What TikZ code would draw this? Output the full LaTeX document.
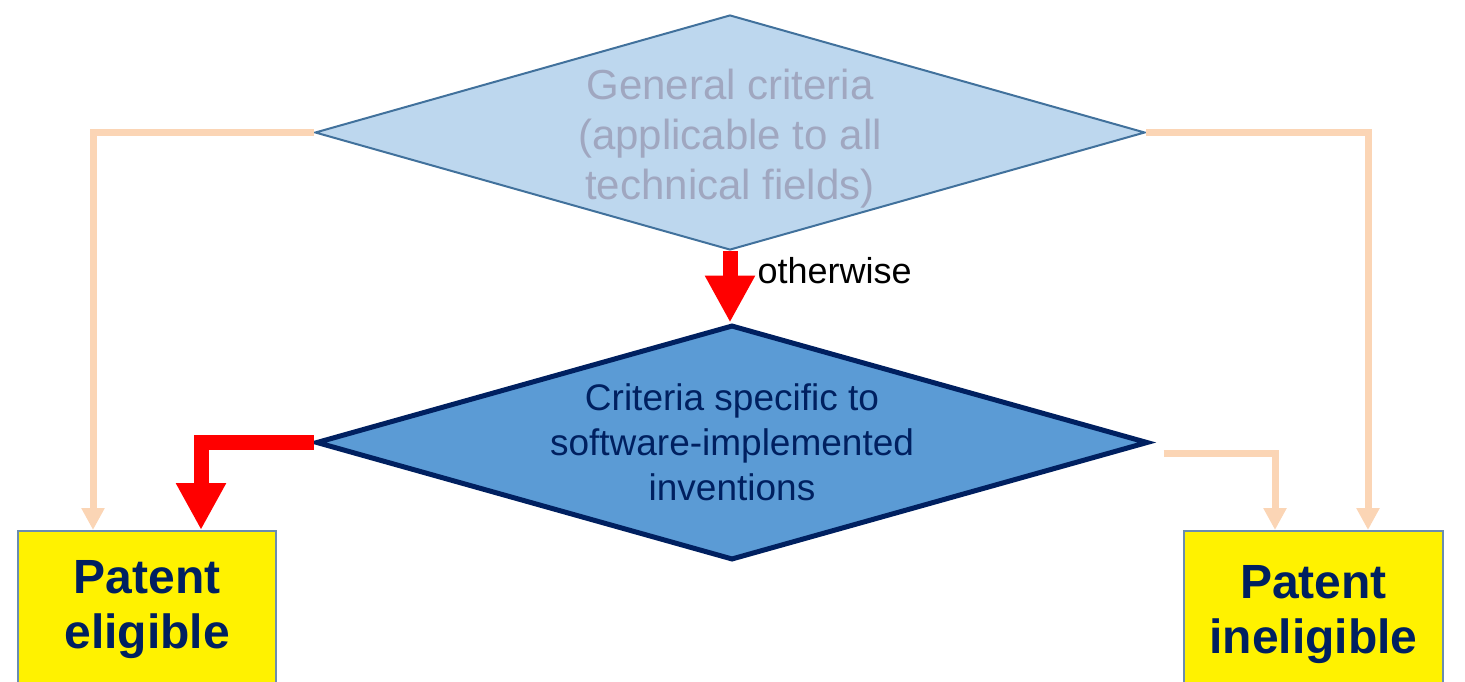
\documentclass[tikz,border=0pt]{standalone}
\usepackage{fontspec}
\setmainfont{Liberation Sans}
\usetikzlibrary{shapes.geometric,arrows.meta}
\definecolor{genfill}{HTML}{BDD7EE}
\definecolor{genline}{HTML}{41719C}
\definecolor{gentext}{HTML}{A0A7C0}
\definecolor{specfill}{HTML}{5B9BD5}
\definecolor{navy}{HTML}{002060}
\definecolor{boxline}{HTML}{6A8DB0}
\definecolor{peach}{HTML}{FBD5B5}

\begin{document}
\begin{tikzpicture}[x=1pt,y=-1pt,
  dia/.style={diamond,aspect=3.53,inner sep=-20pt,align=center},
  box/.style={draw=boxline,line width=2pt,fill=yellow,anchor=north,align=center,
    text=navy,font=\fontsize{48}{55}\selectfont\bfseries},
  peacharr/.style={draw=peach,line width=7pt,-{Triangle[width=22pt,length=22pt]}},
  redarr/.style={draw=red,line width=15pt,-{Triangle[width=47pt,length=47pt]}}]
\useasboundingbox (0,0) rectangle (1465,681);
\node[dia,draw=genline,line width=2pt,fill=genfill,minimum width=830pt,minimum height=235pt,
  text=gentext,font=\fontsize{42}{50}\selectfont,text height=143pt] (G) at (730,132.5)
  {General criteria\\(applicable to all\\technical fields)};
\node[dia,draw=navy,line width=5pt,fill=specfill,minimum width=832pt,minimum height=235pt,
  text=navy,font=\fontsize{37}{45}\selectfont] (S) at (732,442.5)
  {Criteria specific to\\software-implemented\\inventions};
\node[box,minimum width=258pt,minimum height=158pt] (E) at (147,530) {Patent\\eligible};
\node[box,minimum width=259pt,minimum height=168pt] (I) at (1313.5,530) {Patent\\ineligible};
\draw[redarr] (G.south) -- node[pos=.27,right,xshift=20pt,inner sep=0pt,text=black,
  font=\fontsize{36}{40}\selectfont] (O) {otherwise} (G.south |- S.north);
\draw[redarr] (S.west) -| ([xshift=184pt]E.north west);
\draw[peacharr] (G.west) -| ([xshift=76pt]E.north west);
\draw[peacharr] (G.east) -| ([xshift=185pt]I.north west);
\draw[peacharr] ([xshift=13pt,yshift=-11pt]S.east) -| ([xshift=92pt]I.north west);
\end{tikzpicture}
\end{document}
